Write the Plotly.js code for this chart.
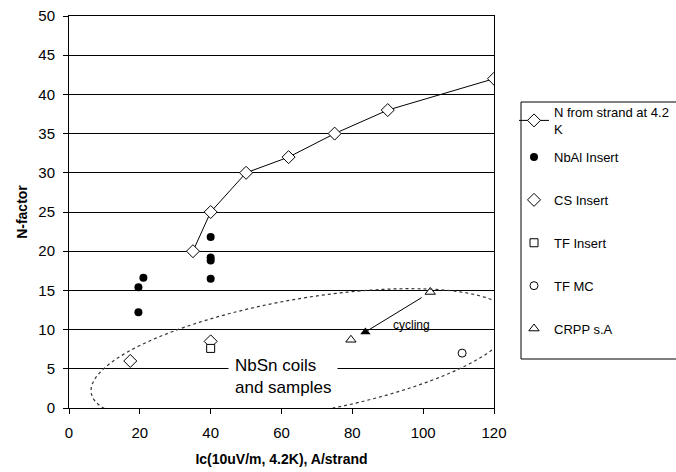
<!DOCTYPE html>
<html><head><meta charset="utf-8">
<script src="https://cdn.plot.ly/plotly-3.0.1.min.js"></script>
<style>html,body{margin:0;padding:0;background:#fff}</style>
</head><body><div id="chart" style="width:676px;height:472px"></div>
<script>
// ---- data ----
const strandX = [35, 40, 50, 62, 75, 90, 120];
const strandY = [20, 25, 30, 32, 35, 38, 42];
const nbalX = [19.6, 21, 19.6, 40, 40, 40, 40];
const nbalY = [15.4, 16.6, 12.2, 21.8, 19.2, 18.8, 16.5];
const csX = [17.3, 40];
const csY = [6.0, 8.5];
const tfInsertX = [40];
const tfInsertY = [7.6];
const tfmcX = [111];
const tfmcY = [7.0];
const crppX = [79.6, 102];
const crppY = [8.7, 14.8];
const cycledX = [83.7];
const cycledY = [9.7];
const seriesNames = ['N from strand at 4.2<br>K', 'NbAl Insert', 'CS Insert', 'TF Insert', 'TF MC', 'CRPP s.A'];
const xTicks = [0, 20, 40, 60, 80, 100, 120];
const yTicks = [0, 5, 10, 15, 20, 25, 30, 35, 40, 45, 50];

// ---- layout geometry ----
const W = 676, H = 472;
const M = {l: 69, r: 182, t: 16, b: 64, autoexpand: false};
const PW = W - M.l - M.r, PH = H - M.t - M.b;
const XR = [0, 120], YR = [0, 50];
const FONT = 'Liberation Sans, Arial, sans-serif';

// ellipse drawn in pixel space (relative to plot area), converted to data coords
const ell = {cx: 233, cy: 340, a: 214, b: 57, angle: 10};
function px2x(p) { return XR[0] + p / PW * (XR[1] - XR[0]); }
function py2y(p) { return YR[1] - p / PH * (YR[1] - YR[0]); }
let path = '';
const al = ell.angle * Math.PI / 180;
for (let i = 0; i <= 120; i++) {
  const t = i / 120 * 2 * Math.PI;
  const dx = ell.a * Math.cos(t) * Math.cos(al) - ell.b * Math.sin(t) * Math.sin(al);
  const dy = -(ell.a * Math.cos(t) * Math.sin(al) + ell.b * Math.sin(t) * Math.cos(al));
  path += (i === 0 ? 'M' : 'L') + px2x(ell.cx + dx).toFixed(3) + ',' + py2y(ell.cy + dy).toFixed(3);
}
path += 'Z';

function lx(p) { return (p - M.l) / PW; }
function ly(p) { return 1 - (p - M.t) / PH; }

const open = {color: '#fff', line: {color: '#000', width: 1}};
const traces = [
  {x: strandX, y: strandY, name: seriesNames[0], mode: 'lines+markers', legend: 'legend',
   line: {color: '#000', width: 1}, marker: Object.assign({symbol: 'diamond', size: 10}, open)},
  {x: nbalX, y: nbalY, name: seriesNames[1], mode: 'markers', legend: 'legend2', legendgroup: 'a',
   marker: {symbol: 'circle', size: 8, color: '#000'}},
  {x: csX, y: csY, name: seriesNames[2], mode: 'markers', legend: 'legend2', legendgroup: 'b',
   marker: Object.assign({symbol: 'diamond', size: 10}, open)},
  {x: tfInsertX, y: tfInsertY, name: seriesNames[3], mode: 'markers', legend: 'legend2', legendgroup: 'c',
   marker: Object.assign({symbol: 'square', size: 8}, open)},
  {x: tfmcX, y: tfmcY, name: seriesNames[4], mode: 'markers', legend: 'legend2', legendgroup: 'd',
   marker: Object.assign({symbol: 'circle', size: 8}, open)},
  {x: crppX, y: crppY, name: seriesNames[5], mode: 'markers', legend: 'legend2', legendgroup: 'e',
   marker: Object.assign({symbol: 'triangle-up', size: 9}, open)},
  {x: cycledX, y: cycledY, name: 'cycled', mode: 'markers', showlegend: false,
   marker: {symbol: 'triangle-up', size: 9, color: '#000'}}
];

const legFont = {family: FONT, size: 13, color: '#000'};
const layout = {
  width: W, height: H, margin: M,
  paper_bgcolor: '#fff', plot_bgcolor: '#fff',
  font: {family: FONT, color: '#000'},
  xaxis: {range: XR, tickvals: xTicks, ticks: 'outside', ticklen: 5, tickcolor: '#000',
    showgrid: false, zeroline: false, showline: true, linecolor: '#000', linewidth: 1, mirror: true,
    tickfont: {family: FONT, size: 15}, ticklabelstandoff: 6,
    title: {text: 'Ic(10uV/m, 4.2K), A/strand', font: {family: FONT, size: 14, weight: 'bold'}, standoff: 14}},
  yaxis: {range: YR, tickvals: yTicks, ticks: 'outside', ticklen: 5, tickcolor: '#000',
    showgrid: true, gridcolor: '#000', gridwidth: 1, zeroline: false,
    showline: true, linecolor: '#000', linewidth: 1, mirror: true,
    tickfont: {family: FONT, size: 15}, ticklabelstandoff: 5,
    title: {text: 'N-factor', font: {family: FONT, size: 14, weight: 'bold'}, standoff: 7}},
  showlegend: true,
  legend: {x: lx(514), y: ly(97), xanchor: 'left', yanchor: 'top', bgcolor: 'rgba(0,0,0,0)',
    borderwidth: 0, font: legFont},
  legend2: {x: lx(514), y: ly(142), xanchor: 'left', yanchor: 'top', bgcolor: 'rgba(0,0,0,0)',
    borderwidth: 0, font: legFont, traceorder: 'grouped', tracegroupgap: 23},
  shapes: [
    {type: 'path', xref: 'x', yref: 'y', path: path, line: {color: '#333', width: 1.2, dash: 'dot'}, layer: 'above'},
    {type: 'rect', xref: 'paper', yref: 'paper', x0: lx(521), x1: lx(690), y0: ly(102), y1: ly(359),
     line: {color: '#000', width: 1}, fillcolor: 'rgba(0,0,0,0)'}
  ],
  annotations: [
    {x: 45.0, y: 4.0, xref: 'x', yref: 'y', xanchor: 'left', yanchor: 'middle', align: 'left',
     text: 'NbSn coils<br>and samples', showarrow: false, bgcolor: '#fff', borderpad: 6,
     font: {family: FONT, size: 17, color: '#000'}},
    {x: 96.8, y: 10.6, xref: 'x', yref: 'y', text: 'cycling', showarrow: false,
     font: {family: FONT, size: 12, color: '#000'}},
    {x: cycledX[0], y: cycledY[0], xref: 'x', yref: 'y', axref: 'x', ayref: 'y',
     ax: crppX[1] - 2, ay: crppY[1] - 0.6, showarrow: true, arrowhead: 0, arrowwidth: 1, arrowcolor: '#000',
     standoff: 3, text: ''}
  ]
};
Plotly.newPlot('chart', traces, layout, {displayModeBar: false, staticPlot: true});
</script></body></html>
